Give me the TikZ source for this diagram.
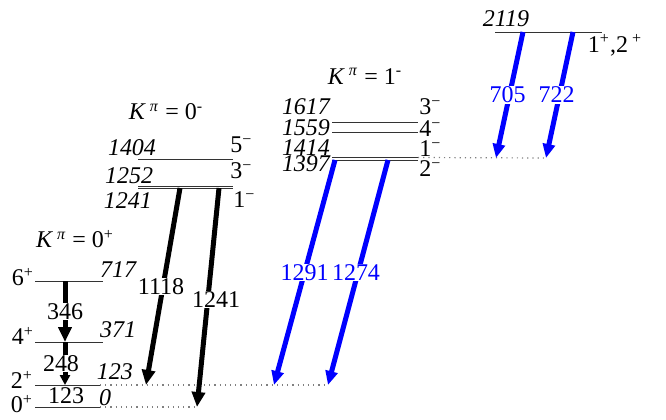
\documentclass[tikz,border=0pt]{standalone}
\usepackage{fontspec}
\setmainfont{Liberation Serif}
\usetikzlibrary{arrows.meta}
\tikzset{
  lvl/.style={black!80,line width=0.5pt},                 % level line
  ext/.style={gray,dotted,line width=0.6pt},              % level extension
  gtr/.style={-{Triangle[length=7.5pt,width=6.5pt]},line width=2.5pt},
  btr/.style={-{Triangle[length=7pt,width=6pt]},blue,line width=2.5pt},
  egy/.style={font=\fontsize{12}{14}\selectfont\itshape,inner sep=0.5pt},
  spn/.style={inner sep=0.5pt},
  lab/.style={fill=white,inner sep=0.4pt},
}
\newcommand{\levelline}[4]{% name, x1, x2, y
  \coordinate (#1-l) at (#2,#4);
  \coordinate (#1-r) at (#3,#4);
  \draw[lvl] (#1-l) -- (#1-r);
}

\begin{document}
\begin{tikzpicture}[x=0.5pt,y=-0.5pt,font=\fontsize{12}{14}\selectfont]
  \useasboundingbox (0,0) rectangle (666,419);
  % K = 0+ band
  \levelline{g0}{35}{100}{407}
  \levelline{g2}{35}{100}{385}
  \levelline{g4}{35}{103}{342}
  \levelline{g6}{35}{103}{281}
  % K = 0- band
  \levelline{n5}{138}{233}{159}
  \levelline{n3}{138}{233}{186}
  \levelline{n1}{138}{233}{188.5}
  % K = 1- band
  \levelline{m3}{332}{418}{122}
  \levelline{m4}{332}{418}{132}
  \levelline{m1}{332}{418}{157.5}
  \levelline{m2}{332}{418}{160}
  % top level
  \levelline{t}{495}{602}{32}

  % start and end points of the transitions
  \coordinate (s346) at (65,281);   \coordinate (e346) at (65,342);
  \coordinate (s248) at (65,342);   \coordinate (e248) at (65,385);
  \coordinate (s1118) at (180,188); \coordinate (e1118) at (146,385);
  \coordinate (s1241) at (219,188); \coordinate (e1241) at (197,407);
  \coordinate (s1291) at (335,160); \coordinate (e1291) at (274,385);
  \coordinate (s1274) at (388,160); \coordinate (e1274) at (328,385);
  \coordinate (s705) at (523,32);   \coordinate (e705) at (496,158);
  \coordinate (s722) at (573,32);   \coordinate (e722) at (546,158);

  \draw[ext] (g0-r) -- (e1241);
  \draw[ext] (g2-r) -- (e1274);
  \draw[ext] (m1-r) -- (e722);

  \draw[gtr] (s346) -- (e346) node[pos=.5,lab] (l346) {346};
  \draw[gtr,-{Triangle[length=5pt,width=5pt]}] (s248) -- (e248)
    node[pos=.5,lab,xshift=-2pt] (l248) {248};
  \node[spn] (l123) at (66,396) {123};
  \draw[gtr] (s1118) -- (e1118) node[pos=.5,lab,xshift=-1pt] (l1118) {1118};
  \draw[gtr] (s1241) -- (e1241) node[pos=.5,lab,xshift=4pt,yshift=-1pt] (l1241) {1241};
  \draw[btr] (s1291) -- (e1291) node[pos=.5,lab,text=blue] (l1291) {1291};
  \draw[btr] (s1274) -- (e1274) node[pos=.5,lab,text=blue,xshift=-1pt] (l1274) {1274};
  \draw[btr] (s705) -- (e705) node[pos=.5,lab,text=blue,xshift=-1pt] (l705) {705};
  \draw[btr] (s722) -- (e722) node[pos=.5,lab,text=blue,xshift=-1.5pt] (l722) {722};

  % band heads
  \node (k0p) at (75,239) {\textit{K}\,\textsuperscript{\textit{π}}\ = 0\textsuperscript{+}};
  \node (k0m) at (166,112) {\textit{K}\,\textsuperscript{\textit{π}}\ = 0\textsuperscript{-}};
  \node (k1m) at (365,76) {\textit{K}\,\textsuperscript{\textit{π}}\ = 1\textsuperscript{-}};

  % spins
  \node[spn] (j0) at (22,404) {0\textsuperscript{+}};
  \node[spn] (j2) at (22,380) {2\textsuperscript{+}};
  \node[spn] (j4) at (23,336) {4\textsuperscript{+}};
  \node[spn] (j6) at (23,277) {6\textsuperscript{+}};
  \node[spn,anchor=west] (j5n) at (229,145) {5\textsuperscript{−}};
  \node[spn,anchor=west] (j3n) at (229,171) {3\textsuperscript{−}};
  \node[spn,anchor=west] (j1n) at (232,200) {1\textsuperscript{−}};
  \node[spn,anchor=west] (j3m) at (418,107) {3\textsuperscript{−}};
  \node[spn,anchor=west] (j4m) at (418,129) {4\textsuperscript{−}};
  \node[spn,anchor=west] (j1m) at (418,149) {1\textsuperscript{−}};
  \node[spn,anchor=west] (j2m) at (418,169) {2\textsuperscript{−}};
  \node[spn] (jt) at (615,45) {1\textsuperscript{+},2\,\textsuperscript{+}};

  % energies
  \node[egy] (x0) at (105,398) {0};
  \node[egy] (x123) at (115,372) {123};
  \node[egy] (x371) at (118,330) {371};
  \node[egy] (x717) at (118,270) {717};
  \node[egy] (x1404) at (132,148) {1404};
  \node[egy] (x1252) at (129,176) {1252};
  \node[egy] (x1241) at (128,201) {1241};
  \node[egy] (x1617) at (306,107) {1617};
  \node[egy] (x1559) at (306,128) {1559};
  \node[egy] (x1414) at (306,148) {1414};
  \node[egy] (x1397) at (306,164) {1397};
  \node[egy] (x2119) at (506,19) {2119};
\end{tikzpicture}
\end{document}
